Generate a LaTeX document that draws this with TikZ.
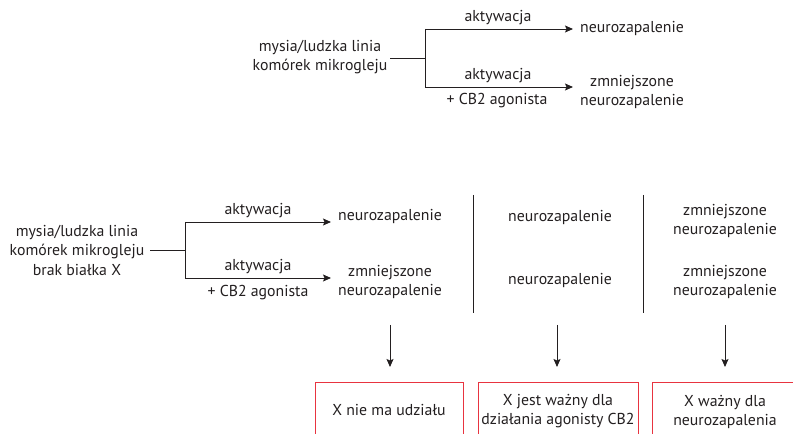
\documentclass[tikz,border=0pt]{standalone}
\usepackage{fontspec}
\setmainfont{PT Sans}
\usetikzlibrary{arrows.meta}
\definecolor{ink}{RGB}{35,31,32}
\definecolor{boxred}{RGB}{232,52,64}
\begin{document}
\begin{tikzpicture}[x=1bp,y=-1bp,
  txt/.style={font=\fontsize{15.8bp}{19.5bp}\selectfont,text=ink,align=center,inner sep=0pt},
  con/.style={draw=ink,line width=0.9bp},
  arr/.style={con,-{Stealth[length=8bp,width=7bp,inset=1.5bp]}},
  resbox/.style={draw=boxred,line width=0.9bp}]
\useasboundingbox (0,0) rectangle (793,434);
% ---------- top ----------
\node[txt] (src1) at (320,57) {mysia/ludzka linia\\komórek mikrogleju};
\coordinate (s1) at (390,58);
\coordinate (b1) at (425,58);
\coordinate (b1u) at (425,29);
\coordinate (b1d) at (425,87);
\coordinate (e1u) at (573,29);
\coordinate (e1d) at (573,87);
\node[txt] (n1) at (632,28) {neurozapalenie};
\node[txt] (n2) at (632,92) {zmniejszone\\neurozapalenie};
\node[txt] (a1) at (498,18) {aktywacja};
\node[txt] (a2) at (498,76) {aktywacja};
\node[txt] (c1) at (497,101) {+ CB2 agonista};
\draw[con] (s1) -- (b1);
\draw[con] (b1u) -- (b1d);
\draw[arr] (b1u) -- (e1u);
\draw[arr] (b1d) -- (e1d);
% ---------- bottom ----------
\node[txt] (src2) at (77,250) {mysia/ludzka linia\\komórek mikrogleju\\brak białka X};
\coordinate (s2) at (150,250);
\coordinate (b2) at (185,250);
\coordinate (b2u) at (185,222);
\coordinate (b2d) at (185,278);
\node[txt] (a3) at (258,211) {aktywacja};
\node[txt] (a4) at (258,267) {aktywacja};
\node[txt] (c2) at (258,293) {+ CB2 agonista};
\coordinate (e2u) at (331,222);
\coordinate (e2d) at (331,278);
\draw[con] (s2) -- (b2);
\draw[con] (b2u) -- (b2d);
\draw[arr] (b2u) -- (e2u);
\draw[arr] (b2d) -- (e2d);
% column 1
\node[txt] (k1u) at (390,216) {neurozapalenie};
\node[txt] (k1d) at (390,282) {zmniejszone\\neurozapalenie};
% separators
\coordinate (sep1t) at (473,195); \coordinate (sep1b) at (473,313);
\coordinate (sep2t) at (643,195); \coordinate (sep2b) at (643,313);
\draw[con] (sep1t) -- (sep1b);
\draw[con] (sep2t) -- (sep2b);
% column 2
\node[txt] (k2u) at (560,217) {neurozapalenie};
\node[txt] (k2d) at (560,280) {neurozapalenie};
% column 3
\node[txt] (k3u) at (725,221) {zmniejszone\\neurozapalenie};
\node[txt] (k3d) at (725,282) {zmniejszone\\neurozapalenie};
% down arrows
\coordinate (d1t) at (390,325); \coordinate (d1b) at (390,367);
\coordinate (d2t) at (557,325); \coordinate (d2b) at (557,367);
\coordinate (d3t) at (725,325); \coordinate (d3b) at (725,367);
\draw[arr] (d1t) -- (d1b);
\draw[arr] (d2t) -- (d2b);
\draw[arr] (d3t) -- (d3b);
% result boxes (cut off at the bottom)
\draw[resbox] (315,440) -- (315,382) -- (463,382) -- (463,440);
\draw[resbox] (478,440) -- (478,382) -- (638,382) -- (638,440);
\draw[resbox] (652,440) -- (652,382) -- (800,382);
\node[txt] (r1) at (389,410) {X nie ma udziału};
\node[txt] (r2) at (558,411) {X jest ważny dla\\działania agonisty CB2};
\node[txt] (r3) at (725,412) {X ważny dla\\neurozapalenia};
\end{tikzpicture}
\end{document}
